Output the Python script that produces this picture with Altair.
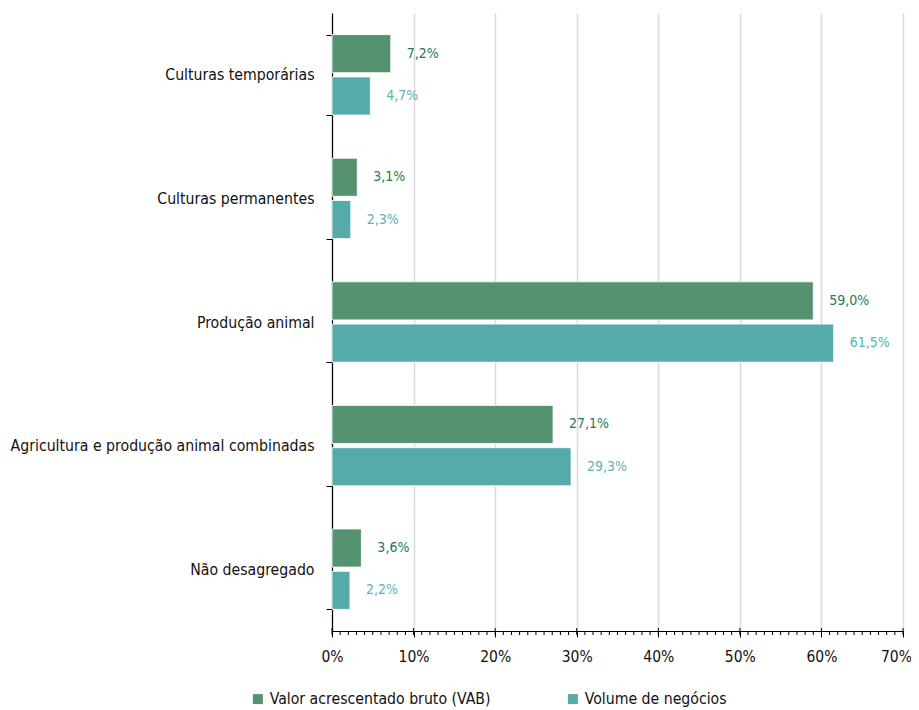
import altair as alt
import pandas as pd

categories = ["Culturas temporárias", "Culturas permanentes", "Produção animal",
              "Agricultura e produção animal combinadas", "Não desagregado"]
series_names = ["Valor acrescentado bruto (VAB)", "Volume de negócios"]
vab = [7.2, 3.1, 59.0, 27.1, 3.6]
vol = [4.7, 2.3, 61.5, 29.3, 2.2]
x_ticks = [0, 10, 20, 30, 40, 50, 60, 70]
minor_ticks = list(range(0, 71))

colors = ["#559370", "#55aaaa"]
label_colors = ["#1d7a58", "#5ab3b3"]
FONT = "DejaVu Sans Condensed"

rows = []
for c, a, b in zip(categories, vab, vol):
    rows.append({"cat": c, "serie": series_names[0], "v": a,
                 "lab": f"{a:.1f}".replace(".", ",") + "%"})
    rows.append({"cat": c, "serie": series_names[1], "v": b,
                 "lab": f"{b:.1f}".replace(".", ",") + "%"})
df = pd.DataFrame(rows)

W, H = 571, 618

xscale = alt.Scale(domain=[0, 70], nice=False, zero=True)
yscale = alt.Scale(domain=categories, paddingInner=0.35, paddingOuter=0.175)
offscale = alt.Scale(domain=series_names, paddingInner=0.1)
color_scale = alt.Scale(domain=series_names, range=colors)

base = alt.Chart(df)

bars = base.mark_bar(stroke="white", strokeWidth=0.8).encode(
    x=alt.X("v:Q", scale=xscale,
            axis=alt.Axis(values=x_ticks, labelExpr="datum.value + '%'", title=None,
                          grid=True, gridColor="#d9d9d9", gridWidth=1.5,
                          domainColor="black", domainWidth=1.2, tickColor="black",
                          tickSize=6, labelPadding=12, labelFontSize=15.5,
                          labelFlush=False, labelOverlap=False,
                          labelOffset={"condition": {"test": "datum.value == 70", "value": -7},
                                       "value": 0},
                          labelFont=FONT, labelColor="#111")),
    y=alt.Y("cat:N", scale=yscale, sort=categories,
            axis=alt.Axis(title=None, tickBand="extent", domainColor="black",
                          domainWidth=1.2, tickColor="black", tickSize=6,
                          labelPadding=12, labelFontSize=15.7, labelFont=FONT,
                          labelColor="#111", labelLimit=400, grid=False)),
    yOffset=alt.YOffset("serie:N", scale=offscale, sort=series_names),
    color=alt.Color("serie:N", scale=color_scale, sort=series_names,
                    legend=alt.Legend(title=None, orient="none", direction="horizontal",
                                      legendX=-82, legendY=678, symbolType="square",
                                      symbolSize=100, symbolStrokeWidth=0,
                                      labelFontSize=15.7, labelFont=FONT,
                                      labelColor="#111", columnPadding=74,
                                      labelLimit=400)),
)

text = base.mark_text(align="left", baseline="middle", dx=16, fontSize=14,
                      font=FONT).encode(
    x=alt.X("v:Q", scale=xscale),
    y=alt.Y("cat:N", scale=yscale, sort=categories),
    yOffset=alt.YOffset("serie:N", scale=offscale, sort=series_names),
    text="lab:N",
    color=alt.Color("serie:N", scale=alt.Scale(domain=series_names, range=label_colors),
                    legend=None),
)

minor = alt.Chart(pd.DataFrame({"t": minor_ticks})).mark_rule(
    color="black", strokeWidth=1).encode(
    x=alt.X("t:Q", scale=xscale),
    y=alt.value(H), y2=alt.value(H + 4),
)
major_up = alt.Chart(pd.DataFrame({"t": x_ticks})).mark_rule(
    color="black", strokeWidth=1).encode(
    x=alt.X("t:Q", scale=xscale),
    y=alt.value(H - 3), y2=alt.value(H),
)

chart = alt.layer(bars, text, minor, major_up).resolve_scale(color="independent").properties(
    width=W, height=H,
    autosize=alt.AutoSizeParams(type="none"),
    padding={"left": 324, "top": 5, "right": 8, "bottom": 80},
).configure_view(stroke=None)

chart.save("out.html", embed_options={"renderer": "svg", "actions": False})
